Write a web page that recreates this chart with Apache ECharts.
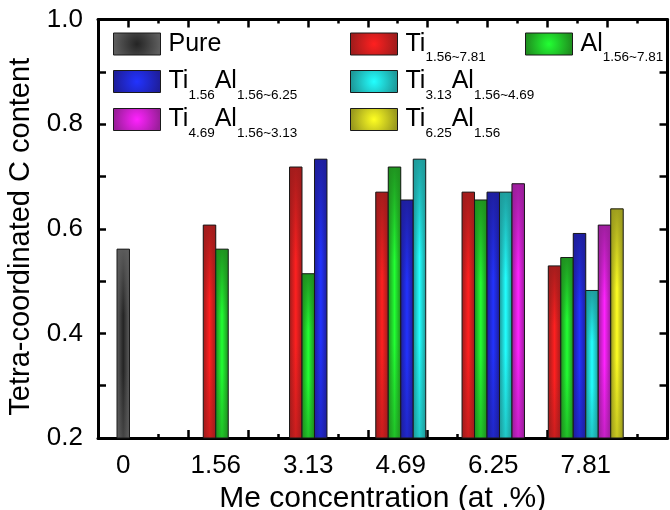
<!DOCTYPE html>
<html>
<head>
<meta charset="utf-8">
<script src="https://cdn.jsdelivr.net/npm/echarts@6/dist/echarts.min.js"></script>
<style>
  html, body { margin: 0; padding: 0; background: #fff; }
  #chart { width: 670px; height: 510px; }
</style>
</head>
<body>
<div id="chart"></div>
<script>
// ---- data ----
const categories = ['0', '1.56', '3.13', '4.69', '6.25', '7.81'];
const pure      = [0.561, null, null, null, null, null];
const ti        = [null, 0.607, 0.718, 0.670, 0.670, 0.529];
const al        = [null, 0.561, 0.514, 0.718, 0.655, 0.545];
const ti156Al   = [null, null, 0.733, 0.655, 0.670, 0.591];
const ti313Al   = [null, null, null, 0.733, 0.670, 0.482];
const ti469Al   = [null, null, null, null, 0.686, 0.607];
const ti625Al   = [null, null, null, null, null, 0.638];
const yTicks = [0.2, 0.4, 0.6, 0.8, 1.0];

const seriesNames = ['Pure', 'Ti', 'Al', 'Ti156Al', 'Ti313Al', 'Ti469Al', 'Ti625Al'];
const seriesData = [pure, ti, al, ti156Al, ti313Al, ti469Al, ti625Al];
const legendText = {
  'Pure':    '{m|Pure}',
  'Ti':      '{m|Ti}{s|1.56~7.81}',
  'Al':      '{m|Al}{s|1.56~7.81}',
  'Ti156Al': '{m|Ti}{s|1.56}{m|Al}{s|1.56~6.25}',
  'Ti313Al': '{m|Ti}{s|3.13}{m|Al}{s|1.56~4.69}',
  'Ti469Al': '{m|Ti}{s|4.69}{m|Al}{s|1.56~3.13}',
  'Ti625Al': '{m|Ti}{s|6.25}{m|Al}{s|1.56}'
};

// ---- styles ----
const edgeColors   = ['#5e5e5e', '#a01c1c', '#1f8f1f', '#1e1e9c', '#1e9a9a', '#9a1e9a', '#9a9a1e'];
const centerColors = ['#242424', '#ff2020', '#22ff33', '#2233ff', '#22ffff', '#ff22ff', '#ffff22'];
const FONT = '"Liberation Sans", Arial, sans-serif';
const Y_MIN = 0.2, Y_MAX = 1.0;
const BAR_RATIO = 0.135;

function rgba(hex, a) {
  const n = parseInt(hex.slice(1), 16);
  return 'rgba(' + ((n >> 16) & 255) + ',' + ((n >> 8) & 255) + ',' + (n & 255) + ',' + a + ')';
}

const presentByCat = categories.map((c, ci) => {
  const arr = [];
  seriesData.forEach((d, si) => { if (d[ci] != null) arr.push(si); });
  return arr;
});

function makeRender(sIdx) {
  const edge = edgeColors[sIdx], center = centerColors[sIdx];
  const hGrad = new echarts.graphic.LinearGradient(0, 0, 1, 0, [
    { offset: 0, color: edge }, { offset: 0.5, color: center }, { offset: 1, color: edge }
  ]);
  const vGrad = new echarts.graphic.LinearGradient(0, 0, 0, 1, [
    { offset: 0, color: rgba(edge, 0.95) },
    { offset: 0.35, color: rgba(edge, 0) },
    { offset: 0.65, color: rgba(edge, 0) },
    { offset: 1, color: rgba(edge, 0.55) }
  ]);
  return function (params, api) {
    const cat = api.value(0), val = api.value(1);
    if (val == null || isNaN(val)) return;
    const present = presentByCat[cat];
    const n = present.length, k = present.indexOf(sIdx);
    const band = api.size([1, 0])[0];
    const w = band * BAR_RATIO;
    const top = api.coord([cat, val]);
    const base = api.coord([cat, Y_MIN]);
    const x = top[0] + (k - n / 2) * w;
    const h = base[1] - top[1];
    return {
      type: 'group',
      children: [
        { type: 'rect', shape: { x: x, y: top[1], width: w, height: h }, style: { fill: hGrad } },
        { type: 'rect', shape: { x: x, y: top[1], width: w, height: h },
          style: { fill: vGrad, stroke: '#1a1a1a', lineWidth: 1 } }
      ]
    };
  };
}

const series = seriesNames.map((name, si) => ({
  type: 'custom',
  name: name,
  xAxisIndex: 2,
  yAxisIndex: 2,
  renderItem: makeRender(si),
  encode: { x: 0, y: 1 },
  itemStyle: { color: centerColors[si] },
  data: seriesData[si].map((v, ci) => (v == null ? null : [ci, v])).filter(d => d !== null),
  silent: true,
  z: 2
}));

// legend: one component per item, placed in columns
const legendPos = [
  [113, 43.5], [350, 43.5], [525, 43.5],
  [113, 81], [350, 81],
  [113, 119], [350, 119]
];
const LINE_H = 41;
const legends = seriesNames.map((name, si) => ({
  data: [{
    name: name,
    icon: 'rect',
    itemStyle: {
      color: new echarts.graphic.RadialGradient(0.5, 0.5, 1, [
        { offset: 0, color: centerColors[si] }, { offset: 1, color: edgeColors[si] }
      ]),
      borderColor: '#1a1a1a', borderWidth: 1
    }
  }],
  left: legendPos[si][0],
  top: legendPos[si][1] - 12,
  padding: 0,
  itemWidth: 47,
  itemHeight: 22,
  selectedMode: false,
  formatter: function (nm) { return legendText[nm]; },
  textStyle: {
    padding: [0, 0, 0, 3],
    rich: {
      m: { fontSize: 25, fontFamily: FONT, color: '#000', lineHeight: LINE_H },
      s: { fontSize: 13.5, fontFamily: FONT, color: '#000', lineHeight: 14, verticalAlign: 'bottom' }
    }
  }
}));

const frameX = {
  type: 'value', min: 0, max: 9.5, interval: 1,
  axisLine: { show: true, onZero: false, lineStyle: { color: '#000', width: 3 } },
  axisTick: { show: true, inside: true, length: 4, lineStyle: { color: '#000', width: 2.5 } },
  minorTick: { show: true, splitNumber: 2, length: 8, lineStyle: { color: '#000', width: 2.5 } },
  axisLabel: { show: false },
  splitLine: { show: false },
  minorSplitLine: { show: false }
};
const frameY = {
  type: 'value', min: Y_MIN, max: Y_MAX, interval: 0.2,
  axisLine: { show: true, onZero: false, lineStyle: { color: '#000', width: 3 } },
  axisTick: { show: true, inside: true, length: 8, lineStyle: { color: '#000', width: 2.5 } },
  minorTick: { show: true, splitNumber: 2, length: 8, lineStyle: { color: '#000', width: 2.5 } },
  splitLine: { show: false },
  minorSplitLine: { show: false }
};

const option = {
  animation: false,
  backgroundColor: '#fff',
  grid: [
    { left: 98, right: 2.5, top: 19.5, bottom: 72, containLabel: false, outerBoundsMode: 'none' },
    { left: 77, right: 38, top: 19.5, bottom: 72, containLabel: false, outerBoundsMode: 'none' }
  ],
  legend: legends,
  xAxis: [
    Object.assign({}, frameX, {
      gridIndex: 0, position: 'bottom',
      name: 'Me concentration (at .%)', nameLocation: 'middle', nameGap: 46,
      nameTextStyle: { fontSize: 30, fontFamily: FONT, color: '#000' }
    }),
    Object.assign({}, frameX, { gridIndex: 0, position: 'top' }),
    {
      gridIndex: 1, type: 'category', data: categories, position: 'bottom',
      axisLine: { show: false }, axisTick: { show: false },
      axisLabel: { fontSize: 26, fontFamily: FONT, color: '#000', margin: 15 },
      splitLine: { show: false }
    }
  ],
  yAxis: [
    Object.assign({}, frameY, {
      gridIndex: 0, position: 'left',
      axisLabel: {
        fontSize: 26, fontFamily: FONT, color: '#000', margin: 15,
        formatter: function (v) { return yTicks.some(t => Math.abs(t - v) < 1e-6) ? v.toFixed(1) : ''; }
      },
      name: 'Tetra-coordinated C content', nameLocation: 'middle', nameGap: 53,
      nameTextStyle: { fontSize: 29, fontFamily: FONT, color: '#000', padding: [0, 16, 0, 0] }
    }),
    Object.assign({}, frameY, { gridIndex: 0, position: 'right', axisLabel: { show: false } }),
    {
      gridIndex: 1, type: 'value', min: Y_MIN, max: Y_MAX, show: false,
      splitLine: { show: false }
    }
  ],
  series: series
};

const chart = echarts.init(document.getElementById('chart'), null, { renderer: 'canvas' });
chart.setOption(option);
</script>
</body>
</html>
